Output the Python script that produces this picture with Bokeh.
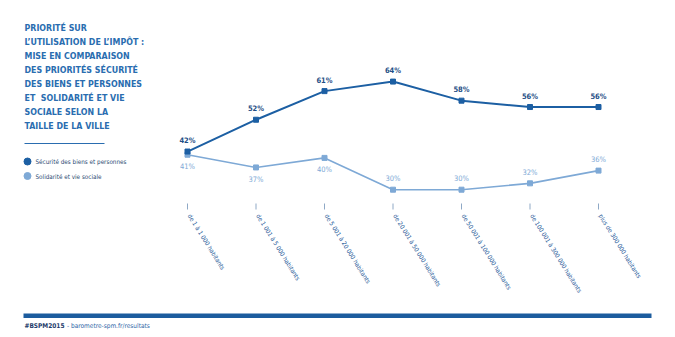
import math
from bokeh.plotting import figure
from bokeh.models import Range1d
from bokeh.core.properties import value
from bokeh.embed import file_html
from bokeh.resources import INLINE

# ---------------- data ----------------
categories = [
    "de 1 à 1 000 habitants",
    "de 1 001 à 5 000 habitants",
    "de 5 001 à 20 000 habitants",
    "de 20 001 à 50 000 habitants",
    "de 50 001 à 100 000 habitants",
    "de 100 001 à 300 000 habitants",
    "plus de 300 000 habitants",
]
securite = [42, 52, 61, 64, 58, 56, 56]
solidarite = [41, 37, 40, 30, 30, 32, 36]
series_names = ["Sécurité des biens et personnes", "Solidarité et vie sociale"]
title_lines = [
    "PRIORITÉ SUR",
    "L’UTILISATION DE L’IMPÔT :",
    "MISE EN COMPARAISON",
    "DES PRIORITÉS SÉCURITÉ",
    "DES BIENS ET PERSONNES",
    "ET\u00a0 SOLIDARITÉ ET VIE",
    "SOCIALE SELON LA",
    "TAILLE DE LA VILLE",
]
footer_tag = "#BSPM2015"
footer_url = "- barometre-spm.fr/resultats"

# ---------------- layout ----------------
W, H = 675, 337
X0, DX = 187.0, 68.5          # pixel x of first category, spacing
Y0, DY = 284.6, 3.18          # pixel y (from top) of value 0, px per unit

def X(px):
    return (px - X0) / DX

def Y(py):
    return (Y0 - py) / DY

FONT = value("'DejaVu Sans Condensed', 'Open Sans', sans-serif")
DARK = "#1c5fa3"
LIGHT = "#7ea9d6"
TITLE_C = "#2a6db0"
NAVY = "#1d3b6a"

p = figure(width=W, height=H, x_range=Range1d(X(0), X(W)), y_range=Range1d(Y(H), Y(0)),
           output_backend="svg", toolbar_location=None, min_border=0)
p.axis.visible = False
p.grid.visible = False
p.outline_line_color = None
p.background_fill_color = "white"
p.border_fill_color = "white"

xs = list(range(len(categories)))

# lines + markers
p.line(xs, solidarite, line_color=LIGHT, line_width=1.6)
p.scatter(xs, solidarite, marker="square", size=5, color=LIGHT)
p.line(xs, securite, line_color=DARK, line_width=2)
p.scatter(xs, securite, marker="square", size=5, color=DARK)

# value labels
off = 11 / DY
p.text(xs, [v + off for v in securite], text=[f"{v}%" for v in securite],
       text_align="center", text_baseline="middle", text_font=FONT,
       text_font_size="7.5px", text_font_style="bold", text_color="#1f4f86")
sol_y = [v - 12 / DY if i < 3 else v + off for i, v in enumerate(solidarite)]
p.text(xs, sol_y, text=[f"{v}%" for v in solidarite],
       text_align="center", text_baseline="middle", text_font=FONT,
       text_font_size="7.5px", text_color=LIGHT)

# category ticks and rotated labels
p.segment(x0=xs, y0=[Y(203)] * len(xs), x1=xs, y1=[Y(209)] * len(xs),
          line_color="#8fa9c6", line_width=1)
p.text([x + X(189) for x in xs], [Y(214)] * len(xs), text=categories,
       angle=-58 * math.pi / 180, text_align="left", text_baseline="middle",
       text_font=FONT, text_font_size="6.3px", text_color="#1f5a99")

# title
p.text([X(24)] * len(title_lines), [Y(27 + 14.1 * i) for i in range(len(title_lines))],
       text=title_lines, text_align="left", text_baseline="middle",
       text_font=FONT, text_font_size="8.8px", text_font_style="bold",
       text_color=TITLE_C)
p.segment(x0=[X(24)], y0=[Y(143)], x1=[X(104)], y1=[Y(143)],
          line_color=TITLE_C, line_width=1)

# legend
p.scatter([X(27), X(27)], [Y(161), Y(175.5)], marker="circle", size=7,
          color=[DARK, LIGHT])
p.text([X(35), X(35)], [Y(161), Y(175.5)], text=series_names,
       text_align="left", text_baseline="middle", text_font=FONT,
       text_font_size="6.3px", text_color="#2c4a72")

# footer
p.quad(left=[X(23)], right=[X(651)], top=[Y(313)], bottom=[Y(317.5)],
       color="#1c5c9e", line_color=None)
p.text([X(24)], [Y(325)], text=[footer_tag], text_align="left", text_baseline="middle",
       text_font=FONT, text_font_size="6.5px", text_font_style="bold", text_color=NAVY)
p.text([X(66.5)], [Y(325)], text=[footer_url], text_align="left", text_baseline="middle",
       text_font=FONT, text_font_size="6.5px", text_color="#2e66a6")

open("out.html", "w").write(file_html(p, INLINE))
